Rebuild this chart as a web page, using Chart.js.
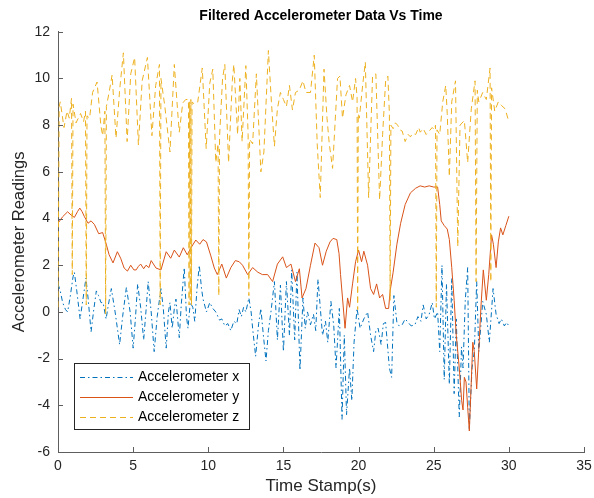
<!DOCTYPE html>
<html>
<head>
<meta charset="utf-8">
<script src="https://cdn.jsdelivr.net/npm/chart.js@4.4.1/dist/chart.umd.min.js"></script>
<style>
  html, body { margin: 0; padding: 0; background: #ffffff; }
  #wrap { width: 594px; height: 498px; }
</style>
</head>
<body>
<div id="wrap"><canvas id="c" width="594" height="498"></canvas></div>
<script>
// ---------- data ----------
const chartTitle = "Filtered Accelerometer Data Vs Time";
const xAxisTitle = "Time Stamp(s)";
const yAxisTitle = "Accelerometer Readings";
const seriesNames = ["Accelerometer x", "Accelerometer y", "Accelerometer z"];
const xTickValues = [0, 5, 10, 15, 20, 25, 30, 35];
const yTickValues = [-6, -4, -2, 0, 2, 4, 6, 8, 10, 12];

// Accelerometer x
const timeX = [0,0.15,0.31,0.5,0.64,0.8,1.0,1.09,1.25,1.47,1.65,1.86,2.0,2.2,2.38,2.55,2.7,2.86,3.0,3.2,3.35,3.55,3.8,4.1,4.3,4.55,4.8,5.0,5.15,5.3,5.5,5.7,5.85,6.0,6.2,6.4,6.6,6.85,7.0,7.2,7.35,7.45,7.6,7.75,7.85,8.07,8.2,8.4,8.55,8.65,8.8,8.97,9.1,9.25,9.4,9.55,9.65,9.88,10.1,10.3,10.5,10.75,10.9,11.1,11.3,11.5,11.7,11.9,12.05,12.2,12.35,12.5,12.7,12.85,12.95,13.15,13.35,13.5,13.65,13.84,14.0,14.17,14.4,14.6,14.8,15.0,15.2,15.4,15.55,15.75,15.9,16.1,16.3,16.45,16.6,16.8,17.0,17.15,17.3,17.45,17.6,17.8,17.95,18.16,18.35,18.5,18.72,18.9,19.05,19.2,19.4,19.55,19.7,19.9,20.1,20.35,20.6,20.8,21.0,21.15,21.3,21.5,21.65,21.8,22.05,22.2,22.35,22.55,22.7,22.9,23.1,23.3,23.5,23.75,23.95,24.15,24.3,24.5,24.7,24.9,25.05,25.26,25.4,25.55,25.7,25.85,26.04,26.2,26.36,26.5,26.7,26.85,26.95,27.1,27.26,27.37,27.55,27.7,27.86,28.0,28.15,28.26,28.5,28.7,28.95,29.15,29.35,29.5,29.7,29.85,30.0];
const accelX = [1.2,0.9,0.4,0.1,0.0,0.6,1.5,1.7,0.9,-0.3,0.5,1.45,0.6,-0.85,0.1,0.9,0.7,0.4,0.4,-0.3,0.3,1.0,0.0,-1.4,-0.2,1.05,0.0,-1.55,-0.3,1.2,0.2,-1.2,0.0,1.3,0.0,-1.7,-0.2,1.0,0.2,-1.55,0.0,0.4,-0.7,0.2,0.55,-1.1,0.3,1.9,-0.2,-0.7,0.4,0.2,-0.4,1.0,2.0,1.0,0.55,0.0,0.4,0.15,0.0,-0.35,-0.3,-0.6,-0.5,-0.8,-0.4,-0.5,0.1,-0.2,0.2,0.0,0.6,0.0,-0.7,-1.9,-0.5,0.15,-0.9,-2.1,-0.8,0.0,1.3,-1.2,1.15,-1.7,1.3,-1.0,1.8,-1.2,1.7,-2.5,0.6,-0.7,0.0,-0.55,-0.1,-0.8,1.4,0.2,-1.0,-0.4,-1.3,0.45,-0.6,-2.4,0.15,-4.6,-1.0,-4.4,-2.4,-3.8,-1.3,0.15,-0.7,-0.3,0.0,-1.0,-1.7,-0.8,-0.7,-1.4,-0.5,-0.45,-2.4,-2.8,0.7,-0.45,-0.6,-0.55,-0.3,-0.45,-0.6,-0.55,-0.2,-0.4,0.3,-0.3,-0.1,0.4,-0.3,0.0,-1.7,2.0,-2.9,1.2,-3.1,1.45,-3.5,-0.3,-4.5,-1.5,-2.4,0.5,1.9,-5.0,-2.4,-1.7,1.3,-1.7,-0.5,0.45,-0.1,-1.3,1.0,-0.1,-0.5,-0.3,-0.6,-0.45,-0.6];

// Accelerometer y
const timeY = [0,0.31,0.64,0.87,1.09,1.3,1.45,1.6,1.76,2.0,2.2,2.42,2.71,2.97,3.19,3.4,3.66,3.95,4.17,4.4,4.62,4.84,5.05,5.2,5.35,5.5,5.7,5.86,6.05,6.2,6.52,6.85,7.2,7.5,7.74,8.07,8.34,8.6,8.85,9.17,9.43,9.65,9.88,10.17,10.4,10.6,10.9,11.2,11.5,11.8,12.06,12.28,12.62,12.95,13.3,13.6,13.95,14.28,14.6,14.95,15.2,15.5,15.8,16.06,16.24,16.5,16.8,17.1,17.37,17.6,17.85,18.1,18.3,18.55,18.7,18.8,18.93,19.1,19.27,19.4,19.6,19.8,20.0,20.2,20.35,20.6,20.8,21.0,21.2,21.4,21.6,21.8,22.0,22.1,22.3,22.55,22.8,23.1,23.45,23.8,24.1,24.4,24.7,25.0,25.26,25.4,25.5,25.7,25.9,26.04,26.2,26.36,26.5,26.7,26.86,26.95,27.04,27.15,27.26,27.37,27.48,27.6,27.7,27.86,28.0,28.15,28.3,28.5,28.66,28.85,28.97,29.15,29.3,29.45,29.6,29.8,30.0];
const accelY = [3.8,4.08,4.29,4.15,4.05,4.3,4.45,4.3,4.08,3.8,3.9,3.75,3.35,3.4,2.95,2.45,2.1,2.58,2.3,1.88,1.75,2.0,1.8,1.8,1.95,2.05,1.85,2.0,1.9,2.2,1.88,1.8,2.58,2.3,2.65,2.35,2.75,2.45,2.75,3.08,2.9,3.1,3.0,2.4,1.88,1.6,2.05,1.45,1.9,2.2,2.15,2.0,1.6,1.9,1.7,1.6,1.6,1.3,2.05,2.36,1.9,2.05,1.3,1.85,0.6,1.0,2.0,2.95,2.75,2.0,2.6,3.0,3.15,3.1,2.5,1.6,0.6,-0.7,0.6,0.2,1.2,2.15,2.65,2.15,2.6,2.0,1.0,0.75,1.2,0.6,0.75,0.15,0.15,0.9,1.7,2.9,3.8,4.6,5.1,5.3,5.4,5.35,5.4,5.35,5.35,4.6,3.9,3.7,3.55,3.1,1.9,0.5,-1.0,-2.4,-3.8,-4.2,-2.8,-3.0,-4.1,-5.1,-3.3,-1.3,-1.7,-3.3,-1.6,0.3,1.8,0.5,1.6,3.3,2.9,1.9,3.0,3.6,3.3,3.7,4.1];

// Accelerometer z
const timeZ = [0,0.08,0.15,0.4,0.6,0.75,0.9,0.95,1.0,1.2,1.5,1.7,1.83,1.88,1.93,2.1,2.3,2.6,2.85,2.97,3.12,3.17,3.22,3.4,3.6,3.86,4.1,4.35,4.6,4.84,5.1,5.35,5.6,5.95,6.25,6.5,6.75,6.8,6.85,7.1,7.45,7.74,7.96,8.07,8.3,8.5,8.68,8.72,8.76,8.8,8.84,8.88,8.92,9.06,9.3,9.6,9.86,10.1,10.3,10.5,10.65,10.7,10.75,10.95,11.1,11.35,11.6,11.7,11.95,12.1,12.25,12.5,12.65,12.7,12.75,12.95,13.2,13.5,13.7,14.0,14.2,14.4,14.6,14.8,15.0,15.2,15.4,15.6,15.8,16.05,16.3,16.5,16.8,17.05,17.25,17.45,17.7,17.9,18.05,18.27,18.6,18.76,18.93,19.16,19.4,19.6,19.8,19.9,19.94,19.98,20.05,20.27,20.45,20.67,20.93,21.15,21.4,21.6,21.8,21.95,22.05,22.1,22.15,22.3,22.45,22.6,22.75,22.9,23.1,23.3,23.45,23.6,23.8,24.0,24.1,24.3,24.5,24.7,24.9,25.05,25.12,25.17,25.22,25.4,25.6,25.8,25.9,26.04,26.2,26.45,26.6,26.75,27.04,27.26,27.5,27.75,27.82,27.9,28.0,28.26,28.5,28.75,28.8,28.85,29.06,29.3,29.5,29.75,30.0];
const accelZ = [0.2,8.8,9.0,7.9,8.6,8.3,9.15,1.6,8.9,8.1,8.5,8.15,8.6,0.3,8.4,8.3,9.4,9.85,8.0,7.55,8.6,-0.1,8.8,9.4,10.15,7.45,9.5,11.1,7.3,10.2,10.9,7.15,9.9,10.9,7.55,9.7,10.6,0.3,10.0,8.85,6.85,10.6,8.6,7.7,8.95,9.1,9.1,0.3,9.0,0.5,9.1,0.3,9.0,8.9,9.0,10.45,7.0,9.8,10.4,6.4,7.2,0.7,7.5,10.0,10.6,6.4,9.9,10.6,7.6,10.0,7.3,10.55,7.6,0.7,7.4,7.2,10.2,6.0,6.85,11.2,9.0,7.1,8.7,9.4,9.1,8.8,9.7,8.65,9.4,9.5,9.9,9.4,9.4,11.0,7.15,4.9,10.4,8.3,7.2,6.15,10.0,10.1,8.3,9.3,9.7,9.0,10.0,9.2,0.1,8.5,8.3,9.7,10.7,4.9,10.1,10.2,4.8,7.6,9.9,10.1,8.5,0.5,8.0,7.85,8.1,8.0,7.8,7.75,7.3,7.6,7.5,7.65,7.6,7.9,7.7,7.85,7.6,7.75,7.9,7.8,8.0,0.2,7.8,7.6,9.0,9.7,8.5,5.8,9.0,9.9,2.8,8.0,8.2,6.4,8.7,9.9,1.3,9.5,9.0,9.4,9.1,10.45,1.3,9.6,8.6,9.0,8.85,8.7,8.15];

// ---------- chart ----------
const FONT = "'Liberation Sans', Arial, Helvetica, sans-serif";
const colX = '#0072BD', colY = '#D95319', colZ = '#EDB120';
const dashX = [5, 3, 1.5, 3];
const dashZ = [6, 4];

function pts(ts, vs) { return ts.map((t, i) => ({ x: t, y: vs[i] })); }

const inwardTicks = {
  id: 'inwardTicks',
  afterDatasetsDraw(chart) {
    const ctx = chart.ctx, a = chart.chartArea;
    const xs = chart.scales.x, ys = chart.scales.y;
    ctx.save();
    ctx.strokeStyle = '#5e5e5e';
    ctx.lineWidth = 1;
    ctx.beginPath();
    xs.ticks.forEach(t => {
      const px = Math.round(xs.getPixelForValue(t.value)) + 0.5;
      ctx.moveTo(px, a.bottom); ctx.lineTo(px, a.bottom - 5);
    });
    ys.ticks.forEach(t => {
      const py = Math.round(ys.getPixelForValue(t.value)) + 0.5;
      ctx.moveTo(a.left, py); ctx.lineTo(a.left + 5, py);
    });
    ctx.stroke();
    ctx.restore();
  }
};

const innerLegend = {
  id: 'innerLegend',
  afterDatasetsDraw(chart) {
    const ctx = chart.ctx, a = chart.chartArea;
    const bx = a.left + 16, bw = 175, bh = 66, by = a.bottom - 23 - bh;
    ctx.save();
    ctx.fillStyle = '#ffffff';
    ctx.fillRect(bx, by, bw, bh);
    ctx.strokeStyle = '#262626';
    ctx.lineWidth = 1;
    ctx.strokeRect(Math.round(bx) + 0.5, Math.round(by) + 0.5, bw, bh);
    const rows = [13.5, 33.7, 54];
    chart.data.datasets.forEach((ds, i) => {
      const y = Math.round(by + rows[i]) + 0.5;
      ctx.beginPath();
      ctx.setLineDash(ds.borderDash || []);
      ctx.strokeStyle = ds.borderColor;
      ctx.lineWidth = ds.borderWidth;
      ctx.moveTo(bx + 6, y); ctx.lineTo(bx + 59, y);
      ctx.stroke();
      ctx.setLineDash([]);
      ctx.fillStyle = '#000000';
      ctx.font = '14px ' + FONT;
      ctx.textBaseline = 'middle';
      ctx.textAlign = 'left';
      ctx.fillText(ds.label, bx + 64, y);
    });
    ctx.restore();
  }
};

new Chart(document.getElementById('c'), {
  type: 'line',
  data: {
    datasets: [
      { label: seriesNames[0], data: pts(timeX, accelX), borderColor: colX, borderWidth: 1, borderDash: dashX, pointRadius: 0, fill: false, order: 2 },
      { label: seriesNames[1], data: pts(timeY, accelY), borderColor: colY, borderWidth: 1, pointRadius: 0, fill: false, order: 1 },
      { label: seriesNames[2], data: pts(timeZ, accelZ), borderColor: colZ, borderWidth: 1, borderDash: dashZ, pointRadius: 0, fill: false, order: 0 }
    ]
  },
  options: {
    responsive: false,
    animation: false,
    parsing: true,
    layout: { padding: { left: 0, right: 10, top: 0, bottom: 0 } },
    plugins: {
      legend: { display: false },
      tooltip: { enabled: false },
      title: {
        display: true, text: chartTitle, color: '#000000', fullSize: false,
        font: { family: FONT, size: 14, weight: 'bold' },
        padding: { top: 8, bottom: 7 }
      }
    },
    scales: {
      x: {
        type: 'linear', min: 0, max: 35,
        afterBuildTicks: s => { s.ticks = xTickValues.map(v => ({ value: v })); },
        afterFit: s => { s.height = 46; s.paddingLeft = 0; s.paddingRight = 0; },
        ticks: { color: '#262626', font: { family: FONT, size: 14 }, padding: 6, maxRotation: 0 },
        grid: { display: true, drawOnChartArea: false, drawTicks: false },
        border: { display: true, color: '#5e5e5e', width: 1 },
        title: { display: true, text: xAxisTitle, color: '#262626', font: { family: FONT, size: 17 }, padding: { top: 0, bottom: 1 } }
      },
      y: {
        type: 'linear', min: -6, max: 12,
        afterBuildTicks: s => { s.ticks = yTickValues.map(v => ({ value: v })); },
        afterFit: s => { s.width = 58; },
        ticks: { color: '#262626', font: { family: FONT, size: 14 }, padding: 8 },
        grid: { display: true, drawOnChartArea: false, drawTicks: false },
        border: { display: true, color: '#5e5e5e', width: 1 },
        title: { display: true, text: yAxisTitle, color: '#262626', font: { family: FONT, size: 16.5 }, padding: { top: 10, bottom: 0 } }
      }
    }
  },
  plugins: [inwardTicks, innerLegend]
});
</script>
</body>
</html>
